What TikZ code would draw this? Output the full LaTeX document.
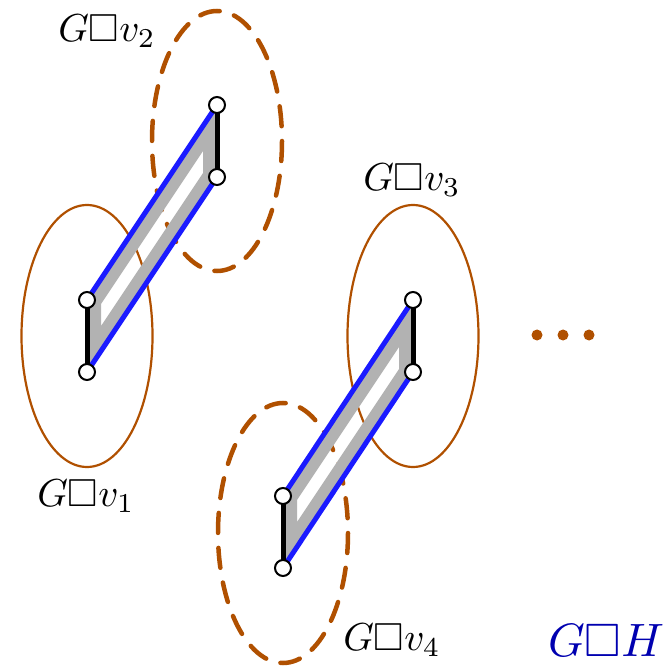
\documentclass[tikz,border=0pt]{standalone}
\usepackage{amssymb}
\definecolor{ebrown}{RGB}{176,80,0}
\definecolor{eblue}{RGB}{26,26,255}
\definecolor{lblue}{RGB}{0,0,176}
\tikzset{
  solidell/.style={draw=ebrown, line width=2.2pt},
  dashell/.style={draw=ebrown, line width=4.5pt, dash pattern=on 20pt off 15pt, line cap=round},
  band/.style={fill=black!30, even odd rule},
  bluee/.style={draw=eblue, line width=5pt},
  blacke/.style={draw=black, line width=5pt},
  vtx/.style={circle, draw=black, fill=white, line width=2pt, minimum size=16pt, inner sep=0pt},
  lbl/.style={scale=3.9, inner sep=0pt},
  dot/.style={circle, fill=ebrown, minimum size=11pt, inner sep=0pt},
}
\begin{document}
\begin{tikzpicture}[x=1pt,y=-1pt]
\useasboundingbox (0,0) rectangle (672,668);
% ellipses
\draw[solidell] (87,336) ellipse [x radius=65.5, y radius=131];
\draw[solidell] (413,336) ellipse [x radius=65.5, y radius=131];
\draw[dashell] (217,141) ellipse [x radius=65, y radius=130];
\draw[dashell] (283,533) ellipse [x radius=65, y radius=130];
% vertex coordinates
\coordinate (a1) at (87,300);
\coordinate (b1) at (87,372);
\coordinate (a2) at (217,105);
\coordinate (b2) at (217,177);
\coordinate (a4) at (283,496);
\coordinate (b4) at (283,568);
\coordinate (a3) at (413,300);
\coordinate (b3) at (413,372);
% bands
\fill[band] (a1) -- (a2) -- (b2) -- (b1) -- cycle
  (101,304) -- (203,151) -- (203,173) -- (101,326) -- cycle;
\fill[band] (a4) -- (a3) -- (b3) -- (b4) -- cycle
  (297,500) -- (399,347) -- (399,369) -- (297,522) -- cycle;
% edges
\draw[bluee] (a1) -- (a2);
\draw[bluee] (b1) -- (b2);
\draw[bluee] (a4) -- (a3);
\draw[bluee] (b4) -- (b3);
\draw[blacke] (a1) -- (b1);
\draw[blacke] (a2) -- (b2);
\draw[blacke] (a3) -- (b3);
\draw[blacke] (a4) -- (b4);
% vertices
\foreach \v in {a1,b1,a2,b2,a3,b3,a4,b4} \node[vtx] (n\v) at (\v) {};
% dots
\node[dot] (d1) at (537,335) {};
\node[dot] (d2) at (563,335) {};
\node[dot] (d3) at (589,335) {};
% labels
\node[lbl] (l2) at (107,31) {$G\square v_2$};
\node[lbl] (l3) at (412,180) {$G\square v_3$};
\node[lbl] (l1) at (86,496) {$G\square v_1$};
\node[lbl] (l4) at (392,640) {$G\square v_4$};
\node[lbl, scale=1.2, text=lblue] (lh) at (606,641) {$G\square H$};
\end{tikzpicture}
\end{document}
